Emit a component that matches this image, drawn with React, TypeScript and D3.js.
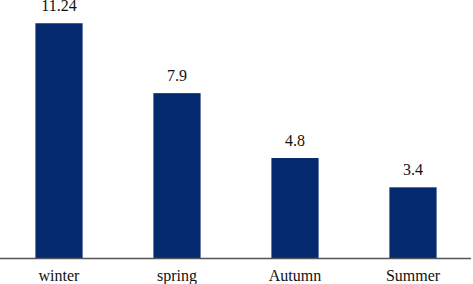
import React from "react";
import * as d3 from "d3";

const categories = ["winter", "spring", "Autumn", "Summer"];
const values = [11.24, 7.9, 4.8, 3.4];
const valueLabels = ["11.24", "7.9", "4.8", "3.4"];

export default function App() {
  const W = 473;
  const H = 284;
  const baseY = 258.5;
  const x = d3.scaleBand<string>().domain(categories).range([0, 472]).paddingInner(0.6).paddingOuter(0.3);
  const y = d3.scaleLinear().domain([0, 12]).range([baseY, baseY - 12 * 20.93]);
  const font = "'Liberation Serif', 'DejaVu Serif', serif";
  return (
    <svg width={W} height={H} style={{ position: "absolute", left: 0, top: 0, background: "#fff" }}>
      {categories.map((c, i) => (
        <g key={c}>
          <rect x={x(c)!} y={y(values[i])} width={x.bandwidth()} height={baseY - y(values[i])} fill="#05296f" />
          <text x={x(c)! + x.bandwidth() / 2} y={y(values[i]) - 12} textAnchor="middle" fontFamily={font} fontSize={16} fill="#111">
            {valueLabels[i]}
          </text>
          <text x={x(c)! + x.bandwidth() / 2} y={281} textAnchor="middle" fontFamily={font} fontSize={16} fill="#111">
            {c}
          </text>
        </g>
      ))}
      <line x1={0} x2={471} y1={baseY} y2={baseY} stroke="#555" strokeWidth={1.5} />
    </svg>
  );
}
